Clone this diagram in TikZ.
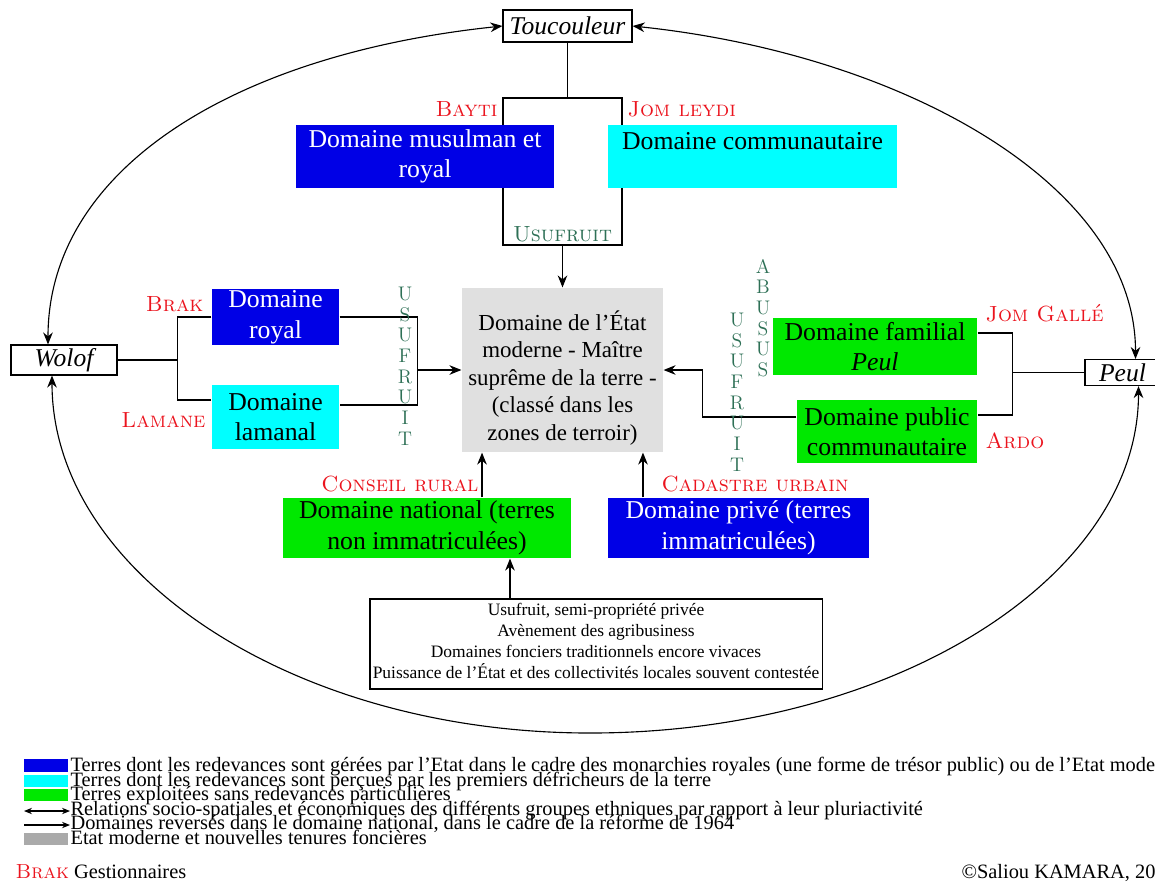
\documentclass[tikz,border=0pt]{standalone}
\usepackage{fontspec}
\setmainfont{Liberation Serif}
\usetikzlibrary{arrows.meta}

\definecolor{dblue}{RGB}{0,0,230}
\definecolor{dcyan}{RGB}{0,255,255}
\definecolor{dgreen}{RGB}{0,232,0}
\definecolor{dgrey}{RGB}{224,224,224}
\definecolor{lgrey}{RGB}{170,170,170}
\definecolor{gred}{RGB}{235,20,30}
\definecolor{usuf}{RGB}{46,112,86}

\begin{document}
\begin{tikzpicture}[x=0.025cm,y=0.025cm,line width=0.8pt,>={Stealth[length=3mm,width=2.4mm]},
  dom/.style={inner sep=0pt,align=center,font=\fontsize{18.3}{21.7}\selectfont},
  etn/.style={draw,fill=white,inner sep=0pt,font=\fontsize{18.2}{20}\selectfont\itshape},
  gst/.style={text=gred,inner sep=0pt,font=\fontsize{15.6}{17}\selectfont\fontfamily{lmr}\selectfont\scshape},
  vert/.style={text=usuf,inner sep=0pt,align=center,font=\fontsize{14}{14.7}\selectfont\fontfamily{lmr}\selectfont},
  leg/.style={anchor=base west,inner sep=0pt,font=\fontsize{14.5}{15}\selectfont}]
  \useasboundingbox (0,0) rectangle (1155,-884);
  \clip (0,0) rectangle (1155,-884);

  \node[etn,minimum width=3.225cm,minimum height=0.8cm] (tou) at (567.5,-26) {Toucouleur};
  \node[etn,minimum width=2.65cm,minimum height=0.75cm] (wolof) at (64,-360) {Wolof};
  \node[etn,minimum width=1.875cm,minimum height=0.65cm] (peul) at (1122.5,-372.5) {Peul};

  % Toucouleur
  \node[draw,minimum width=2.975cm,minimum height=3.675cm] (ubox) at (562.5,-171.5) {};
  \draw (tou.south) -- (tou.south |- ubox.north);
  \node[dom,fill=dblue,text=white,minimum width=6.45cm,minimum height=1.575cm] (musul) at (425,-156.5) {Domaine musulman et\\royal};
  \node[dom,fill=dcyan,minimum width=7.225cm,minimum height=1.575cm] (commu) at (752.5,-156.5) {Domaine communautaire\\\mbox{}};
  \node[gst,anchor=east] (bayti) at (498,-109) {Bayti};
  \node[gst,anchor=west] (jomley) at (627,-109) {Jom leydi};
  \node[gst,text=usuf,anchor=south] (usuf1) at ([yshift=0.075cm]ubox.south) {Usufruit};

  \node[dom,fill=dgrey,minimum width=5.025cm,minimum height=4.1cm,font=\fontsize{16.3}{19.6}\selectfont] (etat) at (562.5,-370) {\rule{0pt}{25pt}Domaine de l’État\\moderne - Maître\\suprême de la terre -\\(classé dans les\\zones de terroir)};
  \draw[->] (ubox.south) -- (ubox.south |- etat.north);

  % Wolof
  \node[dom,fill=dblue,text=white,minimum width=3.175cm,minimum height=1.4cm] (royal) at (275.5,-317) {Domaine\\royal};
  \node[dom,fill=dcyan,minimum width=3.175cm,minimum height=1.6cm] (laman) at (275.5,-417) {Domaine\\lamanal};
  \node[gst,anchor=east] (brak) at (204,-304) {Brak};
  \node[gst,anchor=east] (lamane) at (206,-420) {Lamane};
  \draw (wolof.east) -- ++(60,0) coordinate (wb);
  \draw (royal.west) -| (wb) |- ([yshift=0.425cm]laman.west);
  \draw (royal.east) -- ++(78,0) coordinate (rb) |- ([yshift=0.3cm]laman.east);
  \draw[->] (rb |- etat.west) -- (etat.west);
  \node[vert] (usuf2) at (405,-366) {U\\S\\U\\F\\R\\U\\I\\T};

  % Peul
  \node[dom,fill=dgreen,minimum width=5.1cm,minimum height=1.425cm] (fam) at (875,-346.5) {Domaine familial\\\textit{Peul}};
  \node[dom,fill=dgreen,minimum width=4.5cm,minimum height=1.575cm] (pub) at (887,-431.5) {Domaine public\\communautaire};
  \node[gst,anchor=west] (jomgal) at (985,-313) {Jom Gallé};
  \node[gst,anchor=west] (ardo) at (985,-441) {Ardo};
  \draw (peul.west) -- ++(-72,0) coordinate (pb);
  \draw ([yshift=0.3375cm]fam.east) -| (pb) |- ([yshift=0.4125cm]pub.east);
  \draw[->] ([yshift=0.3625cm]pub.west) -- ++(-94,0) |- (etat.east);
  \node[vert] (abusus) at (763,-318) {A\\B\\U\\S\\U\\S};
  \node[vert] (usuf3) at (737,-392) {U\\S\\U\\F\\R\\U\\I\\T};

  \node[dom,fill=dgreen,minimum width=7.2cm,minimum height=1.5cm] (nat) at (427,-528) {Domaine national (terres\\non immatriculées)};
  \node[dom,fill=dblue,text=white,minimum width=6.525cm,minimum height=1.5cm] (priv) at (738.5,-528) {Domaine privé (terres\\immatriculées)};
  \draw[->] ([xshift=1.375cm]nat.north) -- ([xshift=1.375cm]nat.north |- etat.south);
  \draw[->] ([xshift=-2.3875cm]priv.north) -- ([xshift=-2.3875cm]priv.north |- etat.south);
  \node[gst,anchor=east] (conseil) at (479,-484) {Conseil rural};
  \node[gst] (cadastre) at (755,-484) {Cadastre urbain};
  \node[draw,minimum width=11.3cm,minimum height=2.25cm] (note) at (596,-644) {};
  \node[align=center,inner sep=0pt,anchor=north,font=\fontsize{12.4}{14.9}\selectfont] (notetxt) at ([yshift=-0.1cm]note.north) {Usufruit, semi-propriété privée\\Avènement des agribusiness\\Domaines fonciers traditionnels encore vivaces\\Puissance de l’État et des collectivités locales souvent contestée};
  \draw[->] ([xshift=-2.15cm]note.north) -- ([xshift=-2.15cm]note.north |- nat.south);

  % relations
  \coordinate (bot) at (590,-733);
  \draw[<->] ([xshift=-0.4cm]wolof.north) to[out=90,in=186,out distance=4.37cm,in distance=6.77cm] (tou.west);
  \draw[<->] (tou.east) to[out=-6,in=90,out distance=6.77cm,in distance=4.37cm] ([xshift=0.325cm]peul.north);
  \draw[<->] ([xshift=-0.3cm]wolof.south) to[out=-90,in=180,out distance=4.94cm,in distance=7.42cm] (bot)
    to[out=0,in=-90,out distance=7.56cm,in distance=4.8cm] ([xshift=0.4cm]peul.south);

  % legende
  \fill[dblue] (24,-759) rectangle (68,-772);
  \fill[dcyan] (24,-775) rectangle (68,-787);
  \fill[dgreen] (24,-789) rectangle (68,-801);
  \fill[lgrey] (24,-833) rectangle (68,-845);
  \node[leg] (leg1) at (70,-771.5) {Terres dont les redevances sont gérées par l’Etat dans le cadre des monarchies royales (une forme de trésor public) ou de l’Etat mode};
  \node[leg] (leg2) at (70,-786) {Terres dont les redevances sont perçues par les premiers défricheurs de la terre};
  \node[leg] (leg3) at (70,-800.5) {Terres exploitées sans redevances particulières};
  \node[leg] (leg4) at (70,-815) {Relations socio-spatiales et économiques des différents groupes ethniques par rapport à leur pluriactivité};
  \node[leg] (leg5) at (70,-829.5) {Domaines reversés dans le domaine national, dans le cadre de la réforme de 1964};
  \node[leg] (leg6) at (70,-844) {Etat moderne et nouvelles tenures foncières};
  \node[leg] (leg7) at (15,-878) {\textcolor{gred}{\fontfamily{lmr}\selectfont\scshape Brak} Gestionnaires};
  \node[leg] (copy) at (961,-878) {©Saliou KAMARA, 20};
  \coordinate (k4) at (24,-811);
  \coordinate (k5) at (24,-825);
  \draw[<->,>={Stealth[length=2mm,width=1.6mm]}] (k4) -- (k4 -| leg4.west);
  \draw[->,>={Stealth[length=2mm,width=1.6mm]}] (k5) -- (k5 -| leg5.west);
\end{tikzpicture}
\end{document}
